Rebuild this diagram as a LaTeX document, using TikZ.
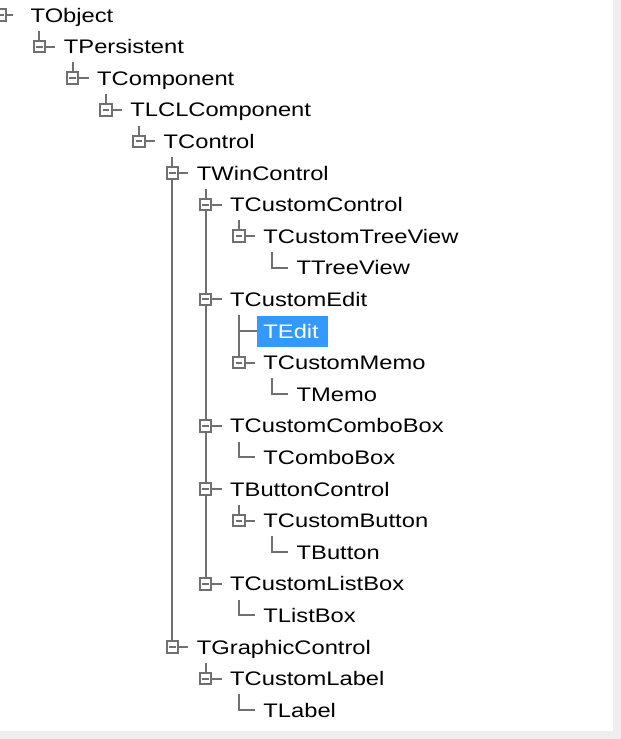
\documentclass[tikz,border=0pt]{standalone}
\usepackage{fontspec}
\newfontfamily\treefont[FakeStretch=1.21]{Liberation Sans}
\definecolor{linegray}{HTML}{707070}
\definecolor{panelgray}{HTML}{EEEEEE}
\definecolor{selblue}{HTML}{3399FF}
\tikzset{
  item/.style={anchor=west, inner sep=0pt, text height=14pt, text depth=0pt,
    font=\treefont\fontsize{19.6pt}{20pt}\selectfont},
  sel/.style={fill=selblue, text=white, inner xsep=6.5pt, text width=58pt, minimum height=31pt},
  branch/.style={draw=linegray, line width=2pt},
  toggle/.style={draw=linegray, fill=white, line width=2pt, minimum size=11.5pt,
    inner sep=0pt, path picture={\draw[linegray, line width=2pt]
      ([xshift=2.5pt]path picture bounding box.west) --
      ([xshift=-2.5pt]path picture bounding box.east);}}
}
\begin{document}
\begin{tikzpicture}[x=1pt,y=-1pt]
\pgfmathsetmacro{\dx}{33.25}
\pgfmathsetmacro{\dy}{31.6}
\def\boxlist{1/1,2/2,3/3,4/4,5/5,6/6,7/7,9/6,11/7,13/6,15/6,16/7,18/6,20/5,21/6}
\fill[panelgray] (0,0) rectangle (621,739);
\fill[white] (0,0) rectangle (613,731);
\useasboundingbox (0,0) rectangle (621,739);
% class names
\foreach \i/\l/\s in {0/0/TObject,1/1/TPersistent,2/2/TComponent,3/3/TLCLComponent,
  4/4/TControl,5/5/TWinControl,6/6/TCustomControl,7/7/TCustomTreeView,8/8/TTreeView,
  9/6/TCustomEdit,11/7/TCustomMemo,12/8/TMemo,13/6/TCustomComboBox,14/7/TComboBox,
  15/6/TButtonControl,16/7/TCustomButton,17/8/TButton,18/6/TCustomListBox,19/7/TListBox,
  20/5/TGraphicControl,21/6/TCustomLabel,22/7/TLabel}{
  \node[item] (t\i) at ({6+\l*\dx+24.5},{15+\i*\dy}) {\s};
}
\node[item,sel] (t10) at ({6+7*\dx+18},{15+10*\dy}) {TEdit};
% stems below the parents
\coordinate (s0) at ({6+\dx},{15+15.8});
\foreach \i/\l in \boxlist{\coordinate (s\i) at ({6+(\l+1)*\dx},{15+\i*\dy+15.8});}
% branches
\foreach \i/\p in {1/0,2/1,3/2,4/3,5/4,6/5,7/6,8/7,9/5,11/9,12/11,13/5,14/13,15/5,
  16/15,17/16,18/5,19/18,20/4,21/20,22/21}{
  \draw[branch] (s\p) |- ([xshift=-8.5pt]t\i.west);
}
\draw[branch] (s9) |- (t10.west);
% toggle boxes
\node[toggle] (b0) at (0.3,15) {};
\draw[branch] (b0.east) -- ([xshift=-17.5pt]t0.west);
\foreach \i/\l in \boxlist{\node[toggle] (b\i) at ({6+\l*\dx},{15+\i*\dy}) {};}
\end{tikzpicture}
\end{document}
